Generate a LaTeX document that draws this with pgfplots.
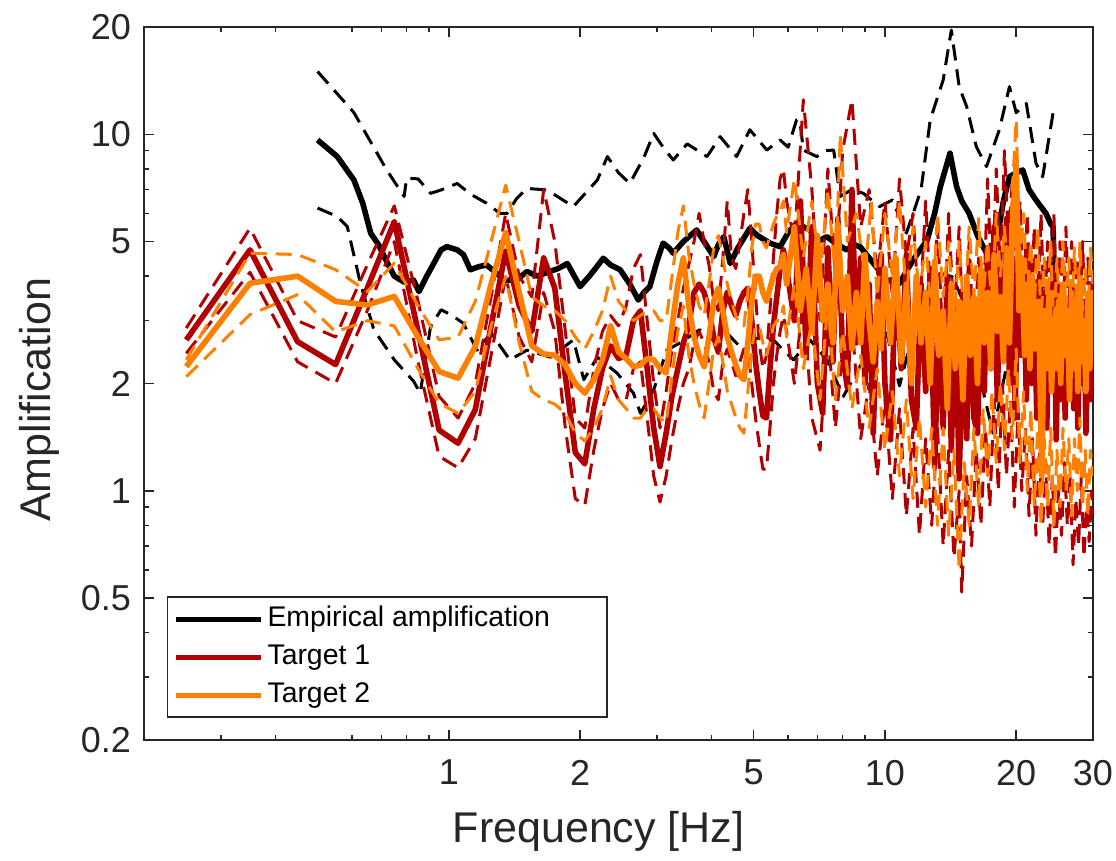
\documentclass[border=0pt]{standalone}
\usepackage{fontspec}
\setmainfont{Liberation Sans}
\usepackage{pgfplots}
\pgfplotsset{compat=1.18}
\definecolor{tred}{RGB}{178,0,0}
\definecolor{torange}{RGB}{255,128,0}
\definecolor{axgray}{RGB}{38,38,38}
\begin{document}
\begin{tikzpicture}
\path[use as bounding box] (0,0) rectangle (558pt,430.5pt);
\begin{axis}[
  at={(72pt,60.5pt)}, anchor=south west,
  scale only axis, width=474.5pt, height=356.5pt,
  xmode=log, ymode=log,
  xmin=0.2, xmax=30, ymin=0.2, ymax=20,
  xtick={1,2,5,10,20,30}, xticklabels={1,2,5,10,20,30},
  ytick={0.2,0.5,1,2,5,10,20}, yticklabels={0.2,0.5,1,2,5,10,20},
  minor xtick={0.3,0.4,0.6,0.7,0.8,0.9,3,4,6,7,8,9},
  minor ytick={0.3,0.4,0.6,0.7,0.8,0.9,3,4,6,7,8,9},
  tick align=inside, tick pos=both,
  major tick length=5pt, minor tick length=2.5pt,
  every tick/.style={axgray, line width=0.75pt},
  axis line style={axgray, line width=1pt},
  tick label style={font=\fontsize{18}{20}\selectfont, text=axgray},
  xticklabel style={yshift=-6.5pt},
  yticklabel style={xshift=-3pt},
  xlabel={Frequency [Hz]}, ylabel={Amplification},
  xlabel style={at={(axis description cs:0.479,-0.128)}, anchor=center, font=\fontsize{21.5}{24}\selectfont, text=axgray},
  ylabel style={at={(axis description cs:-0.11,0.477)}, anchor=center, rotate=0, font=\fontsize{21.5}{24}\selectfont, text=axgray},
  legend style={at={(axis description cs:0.024,0.031)}, anchor=south west,
    draw=axgray, line width=0.75pt, inner xsep=3pt, inner ysep=2pt, row sep=1pt,
    nodes={inner xsep=2pt, inner ysep=2pt, text height=10.5pt, text depth=3.5pt},
    font=\fontsize{14.2}{17}\selectfont},
  legend cell align=left,
  legend image code/.code={\draw[#1, line width=2.5pt] (0pt,0pt) -- (42.5pt,0pt);},
  every axis plot/.append style={line join=round},
  dsh/.style={line width=1.5pt, dash pattern=on 8pt off 4.5pt, forget plot},
  sld/.style={line width=2.8pt},
]
% ---------- black dashed ----------
\addplot[black, dsh] coordinates {
(0.50,15.0) (0.606,11.5) (0.72,7.95) (0.79,6.69) (0.80,7.53) (0.85,7.5) (0.908,6.83) (0.96,6.98) (1.045,7.28) (1.12,6.8) (1.22,6.41) (1.31,6.0) (1.36,6.0) (1.43,6.6) (1.51,7.05) (1.68,6.98) (1.93,6.27) (2.19,7.44) (2.31,8.66) (2.45,7.8) (2.6,7.28) (2.8,8.6) (2.95,10.06) (3.1,9.2) (3.27,8.47) (3.52,9.4) (3.91,8.66) (4.19,9.85) (4.57,8.66) (4.9,10.3) (5.36,9.03) (5.75,9.64) (6.0,9.2) (6.27,10.97) (6.38,10.97) (6.5,9.03) (6.98,8.66) (7.3,9.0) (7.63,9.03) (7.89,6.69) (8.4,7.0) (8.92,6.83) (9.72,6.27) (10.4,6.54) (11.2,5.28) (12.1,6.98) (12.7,10.97) (13.6,14.2) (14.2,19.6) (14.8,13.6) (15.4,11.95) (16.2,9.23) (17.1,8.12) (18.3,10.3) (19.3,13.6) (20.0,11.5) (21.1,12.2) (22.2,8.3) (23.0,7.6) (24.3,11.5)
};
\addplot[black, dsh] coordinates {
(0.50,6.21) (0.555,5.88) (0.585,5.51) (0.627,3.82) (0.673,2.83) (0.75,2.33) (0.83,2.03) (0.86,1.88) (0.908,2.89) (0.96,3.22) (1.01,3.12) (1.08,2.95) (1.16,2.48) (1.25,2.77) (1.38,2.33) (1.51,2.48) (1.71,2.37) (1.93,2.65) (2.04,2.05) (2.19,2.37) (2.43,2.14) (2.65,1.88) (2.75,1.65) (2.95,1.92) (3.16,2.48) (3.39,2.6) (3.76,2.83) (4.12,2.6) (4.34,2.77) (4.65,2.54) (5.17,2.7) (5.55,2.65) (5.85,2.48) (6.17,2.33) (6.73,2.65) (7.36,2.33) (8.03,1.84) (8.6,2.14) (9.4,2.6) (10.1,2.77) (10.8,1.97) (11.6,2.77) (12.5,3.43) (13.4,4.08) (14.3,3.98) (15.4,3.22) (16.5,2.09) (17.7,1.45) (19.0,2.23) (20.7,2.77) (22.2,3.43) (23.4,3.9) (24.3,3.74)
};
% ---------- black solid ----------
\addplot[black, sld] coordinates {
(0.50,9.64) (0.555,8.66) (0.606,7.44) (0.635,6.4) (0.662,5.28) (0.69,4.9) (0.72,4.4) (0.75,4.0) (0.79,3.85) (0.83,3.9) (0.854,3.62) (0.89,4.0) (0.924,4.35) (0.96,4.74) (0.99,4.84) (1.045,4.74) (1.08,4.6) (1.12,4.17) (1.17,4.25) (1.22,4.30) (1.28,4.1) (1.34,3.90) (1.43,3.90) (1.51,4.12) (1.6,4.0) (1.68,4.1) (1.78,4.2) (1.87,4.34) (1.94,4.0) (2.0,3.74) (2.1,4.0) (2.2,4.3) (2.26,4.49) (2.35,4.3) (2.47,4.17) (2.6,3.8) (2.72,3.43) (2.8,3.6) (2.89,3.74) (3.0,4.4) (3.1,4.95) (3.2,4.8) (3.27,4.64) (3.45,5.0) (3.7,5.39) (3.85,5.0) (4.05,4.54) (4.15,4.9) (4.27,5.16) (4.42,4.34) (4.6,4.8) (4.9,5.45) (5.1,5.2) (5.45,4.95) (5.75,4.84) (6.0,5.3) (6.27,5.63) (6.5,5.5) (6.73,5.4) (7.0,5.0) (7.36,5.16) (7.8,4.9) (8.17,4.74) (8.5,4.9) (8.77,4.84) (9.2,4.5) (9.55,4.25) (10.1,3.90) (10.8,3.82) (11.6,4.44) (12.5,5.05) (13.0,6.0) (13.4,7.13) (14.1,8.85) (14.6,7.13) (15.0,6.5) (15.6,6.0) (16.3,5.2) (17.1,4.64) (18.0,4.95) (18.7,6.5) (19.3,7.6) (20.0,7.8) (20.7,7.94) (21.4,7.0) (22.2,6.54) (23.4,6.0) (24.0,5.6) (24.3,5.51) (24.5,3.4)
};
\addlegendentry{Empirical amplification\hspace*{23.5pt}}
% ---------- Target 1 dashed ----------
\addplot[tred, dsh] coordinates {
(0.25,2.86) (0.35,5.45) (0.45,3.0) (0.55,2.7) (0.65,4.3) (0.75,6.3) (0.85,3.4) (0.95,1.84) (1.05,1.6) (1.15,2.0) (1.25,3.5) (1.35,6.0) (1.45,4.0) (1.55,3.5) (1.65,7.0) (1.75,5.0) (1.85,2.8) (1.95,1.6) (2.05,1.5) (2.15,2.2) (2.25,2.8) (2.35,3.1) (2.45,2.9) (2.55,3.3) (2.65,4.2) (2.75,4.6) (2.85,3.0) (2.95,2.0) (3.05,1.5) (3.15,1.9) (3.25,2.5) (3.35,3.0) (3.45,3.7) (3.55,4.3) (3.65,5.0) (3.75,6.0) (3.85,5.0) (3.95,4.3) (4.05,3.4) (4.15,3.2) (4.25,4.5) (4.35,6.5) (4.45,4.5) (4.55,4.2) (4.65,5.0) (4.75,6.0) (4.85,7.0) (4.95,5.0) (5.05,3.5) (5.15,2.6) (5.25,2.2) (5.35,2.4) (5.45,3.2) (5.55,4.5) (5.65,6.0) (5.75,7.5) (5.85,8.0) (5.95,6.5) (6.2,5.0) (6.5,12.5) (6.8,7.0) (7.1,3.0) (7.4,8.0) (7.7,4.0) (8.0,9.0) (8.4,12.5) (8.8,5.5) (9.2,7.0) (9.6,4.0) (10.0,6.5) (10.4,3.5) (10.8,7.5) (11.2,4.5) (11.6,6.0) (12.0,3.0) (12.4,6.5) (12.8,3.0) (13.2,5.5) (13.6,2.5) (14.0,6.0) (14.4,3.0) (14.8,5.5) (15.2,2.2) (15.6,5.0) (16.0,2.5) (16.4,4.5) (16.8,3.0) (17.2,7.5) (17.6,3.5) (18.0,8.0) (18.4,4.0) (18.8,9.0) (19.2,5.0) (19.6,7.5) (20.0,4.0) (20.4,6.5) (20.8,3.5) (21.2,6.0) (21.6,3.0) (22.0,5.5) (22.4,3.0) (22.8,6.0) (23.2,3.0) (23.6,5.0) (24.0,3.5) (24.4,6.0) (24.8,2.8) (25.2,5.0) (25.6,3.0) (26.0,5.5) (26.4,3.2) (26.8,5.0) (27.2,2.8) (27.6,4.5) (28.0,3.0) (28.4,5.0) (28.8,2.8) (29.2,4.5) (29.6,3.2) (30,4.0)
};
\addplot[tred, dsh] coordinates {
(0.25,2.43) (0.35,4.1) (0.45,2.3) (0.55,2.0) (0.65,3.2) (0.75,5.0) (0.85,2.3) (0.95,1.25) (1.05,1.16) (1.15,1.4) (1.25,2.4) (1.35,4.0) (1.45,2.7) (1.55,2.3) (1.65,3.6) (1.75,2.8) (1.85,1.5) (1.95,0.95) (2.05,0.91) (2.15,1.3) (2.25,1.7) (2.35,2.0) (2.45,1.8) (2.55,1.8) (2.65,2.2) (2.75,2.3) (2.85,1.6) (2.95,1.1) (3.05,0.93) (3.15,1.1) (3.25,1.4) (3.35,1.7) (3.45,2.0) (3.55,2.2) (3.65,2.6) (3.75,2.8) (3.85,2.6) (3.95,2.3) (4.05,1.9) (4.15,1.8) (4.25,2.3) (4.35,2.5) (4.45,2.3) (4.55,2.1) (4.65,2.3) (4.75,2.5) (4.85,2.5) (4.95,2.0) (5.05,1.6) (5.15,1.35) (5.25,1.15) (5.35,1.15) (5.45,1.5) (5.55,2.0) (5.65,2.4) (5.75,2.8) (5.85,3.1) (5.95,2.8) (6.2,2.0) (6.5,3.5) (6.8,1.6) (7.1,1.3) (7.4,2.8) (7.7,1.5) (8.0,2.5) (8.4,3.0) (8.8,1.4) (9.2,2.0) (9.6,1.1) (10.0,1.8) (10.4,0.95) (10.8,1.7) (11.2,0.85) (11.6,1.5) (12.0,0.75) (12.4,1.4) (12.8,0.8) (13.2,1.5) (13.6,0.7) (14.0,1.3) (14.4,0.65) (14.8,1.0) (15.0,0.52) (15.4,1.1) (15.8,0.7) (16.2,1.3) (16.6,0.8) (17.0,1.5) (17.4,0.9) (17.8,1.8) (18.2,1.0) (18.6,2.0) (19.0,1.1) (19.4,1.8) (19.8,0.9) (20.2,1.7) (20.6,1.0) (21.0,1.5) (21.4,0.85) (21.8,1.4) (22.2,0.75) (22.6,1.3) (23.0,0.8) (23.4,1.2) (23.8,0.7) (24.2,1.1) (24.6,0.65) (25.0,1.0) (25.4,0.75) (25.8,1.2) (26.2,0.8) (26.6,1.1) (27.0,0.62) (27.4,0.95) (27.8,0.7) (28.2,1.1) (28.6,0.65) (29.0,0.9) (29.4,0.72) (29.8,1.0) (30,0.85)
};
% ---------- Target 1 solid ----------
\addplot[tred, sld] coordinates {
(0.25,2.65) (0.35,4.74) (0.45,2.62) (0.55,2.26) (0.65,3.7) (0.75,5.69) (0.85,2.8) (0.95,1.48) (1.05,1.36) (1.15,1.69) (1.25,2.9) (1.35,4.7) (1.45,3.3) (1.55,2.8) (1.65,4.5) (1.75,3.7) (1.85,2.1) (1.95,1.28) (2.05,1.19) (2.15,1.7) (2.25,2.2) (2.35,2.55) (2.45,2.35) (2.55,2.4) (2.65,3.0) (2.75,3.2) (2.85,2.2) (2.95,1.5) (3.05,1.17) (3.15,1.45) (3.25,1.85) (3.35,2.2) (3.45,2.6) (3.55,2.9) (3.65,3.6) (3.75,3.8) (3.85,3.6) (3.95,3.2) (4.05,2.7) (4.15,2.45) (4.25,3.2) (4.35,3.6) (4.45,3.3) (4.55,3.1) (4.65,3.4) (4.75,3.6) (4.85,3.7) (4.95,3.0) (5.05,2.3) (5.15,1.9) (5.25,1.62) (5.35,1.6) (5.45,2.2) (5.55,2.9) (5.65,3.5) (5.75,4.2) (5.85,4.74) (5.95,4.2) (6.2,3.0) (6.4,6.5) (6.6,2.4) (6.8,5.5) (7.0,2.0) (7.2,1.65) (7.4,4.8) (7.6,2.3) (7.8,5.8) (8.0,2.4) (8.2,1.95) (8.4,7.0) (8.6,2.6) (8.8,4.5) (9.0,2.0) (9.2,3.8) (9.4,1.45) (9.6,3.2) (9.8,4.6) (10.0,2.0) (10.3,1.39) (10.6,4.2) (10.9,2.2) (11.2,4.6) (11.5,1.8) (11.8,1.5) (12.1,3.8) (12.4,1.9) (12.7,4.2) (13.0,1.17) (13.3,3.0) (13.6,1.5) (13.9,4.0) (14.2,1.3) (14.5,3.4) (14.8,1.08) (15.1,2.8) (15.4,1.4) (15.7,3.6) (16.0,1.6) (16.3,1.45) (16.6,3.2) (16.9,1.9) (17.2,4.8) (17.5,2.2) (17.8,5.5) (18.1,1.8) (18.4,4.2) (18.7,2.5) (19.0,5.8) (19.3,2.0) (19.6,4.5) (19.9,1.6) (20.2,5.2) (20.5,2.4) (20.8,4.0) (21.1,1.8) (21.4,4.6) (21.7,2.0) (22.0,3.5) (22.3,1.6) (22.6,4.0) (22.9,1.9) (23.2,3.6) (23.5,1.5) (23.8,3.2) (24.1,2.0) (24.4,3.8) (24.7,1.39) (25.0,3.0) (25.3,1.8) (25.6,3.5) (25.9,1.6) (26.2,3.0) (26.5,2.1) (26.8,3.6) (27.1,1.7) (27.4,2.8) (27.7,1.5) (28.0,3.2) (28.3,2.0) (28.6,3.4) (28.9,1.45) (29.2,2.6) (29.5,1.8) (29.8,2.4) (30,2.0)
};
\addlegendentry{Target 1}
% ---------- Target 2 dashed ----------
\addplot[torange, dsh] coordinates {
(0.25,2.33) (0.35,4.64) (0.45,4.6) (0.55,4.17) (0.65,3.62) (0.75,4.35) (0.85,3.3) (0.95,2.65) (1.05,2.7) (1.15,3.4) (1.25,5.0) (1.35,7.2) (1.45,5.0) (1.55,3.5) (1.65,3.3) (1.75,3.2) (1.85,3.0) (1.95,2.7) (2.05,2.5) (2.15,2.8) (2.25,3.2) (2.35,4.0) (2.45,3.4) (2.55,3.2) (2.65,3.0) (2.75,3.1) (2.85,3.2) (2.95,3.2) (3.05,3.0) (3.15,3.0) (3.25,4.0) (3.35,5.3) (3.45,6.3) (3.55,4.6) (3.65,3.8) (3.75,3.3) (3.85,3.1) (3.95,3.8) (4.05,4.8) (4.15,5.2) (4.25,4.5) (4.35,3.8) (4.45,3.4) (4.55,3.1) (4.65,2.9) (4.75,2.9) (4.85,3.6) (4.95,4.8) (5.05,5.6) (5.15,5.6) (5.25,5.0) (5.35,4.8) (5.45,5.2) (5.55,5.6) (5.65,5.9) (5.75,6.0) (5.85,6.5) (5.95,5.3) (6.2,7.5) (6.5,4.5) (6.8,6.5) (7.1,4.0) (7.4,7.0) (7.7,4.0) (7.9,10.0) (8.2,5.0) (8.6,6.0) (9.0,4.0) (9.3,6.5) (9.6,3.5) (10.0,6.0) (10.4,4.0) (10.8,6.5) (11.2,3.5) (11.6,5.5) (12.0,3.5) (12.4,5.0) (12.8,3.0) (13.2,6.0) (13.6,3.5) (14.0,5.0) (14.4,2.8) (14.8,5.0) (15.2,3.0) (15.6,5.5) (16.0,3.5) (16.4,5.8) (16.8,3.5) (17.2,5.0) (17.6,3.2) (18.0,6.0) (18.4,4.0) (18.8,5.5) (19.2,3.8) (19.6,7.0) (20.0,11.0) (20.4,4.5) (20.8,6.0) (21.2,3.5) (21.6,5.0) (22.0,3.2) (22.4,5.5) (22.8,3.0) (23.2,4.5) (23.6,3.2) (24.0,5.0) (24.4,2.8) (24.8,4.5) (25.2,3.0) (25.6,5.0) (26.0,3.2) (26.4,4.5) (26.8,3.0) (27.2,4.8) (27.6,3.0) (28.0,5.0) (28.4,3.2) (28.8,4.2) (29.2,3.0) (29.6,4.8) (30,3.8)
};
\addplot[torange, dsh] coordinates {
(0.25,2.09) (0.35,3.12) (0.45,3.55) (0.55,2.79) (0.65,3.0) (0.75,2.9) (0.85,2.2) (0.95,1.76) (1.05,1.65) (1.15,1.9) (1.25,2.9) (1.35,4.0) (1.45,2.6) (1.55,1.9) (1.65,1.8) (1.75,1.75) (1.85,1.65) (1.95,1.45) (2.05,1.38) (2.15,1.5) (2.25,1.7) (2.35,2.1) (2.45,1.8) (2.55,1.7) (2.65,1.6) (2.75,1.6) (2.85,1.7) (2.95,1.7) (3.05,1.6) (3.15,1.55) (3.25,2.1) (3.35,2.8) (3.45,3.3) (3.55,2.4) (3.65,2.0) (3.75,1.75) (3.85,1.6) (3.95,2.0) (4.05,2.5) (4.15,2.7) (4.25,2.3) (4.35,1.9) (4.45,1.75) (4.55,1.6) (4.65,1.5) (4.75,1.45) (4.85,1.9) (4.95,2.5) (5.05,2.9) (5.15,2.9) (5.25,2.6) (5.35,2.4) (5.45,2.6) (5.55,2.9) (5.65,3.0) (5.75,3.0) (5.85,3.3) (5.95,2.7) (6.2,3.8) (6.5,2.2) (6.8,3.0) (7.1,1.8) (7.4,3.4) (7.7,1.8) (8.0,2.8) (8.4,1.7) (8.8,2.4) (9.2,1.5) (9.6,2.2) (10.0,1.3) (10.4,1.9) (10.8,1.1) (11.2,1.8) (11.6,0.95) (12.0,1.6) (12.4,0.9) (12.8,1.5) (13.2,0.8) (13.6,1.5) (14.0,0.75) (14.4,1.3) (14.8,0.6) (15.2,1.2) (15.6,0.8) (16.0,1.5) (16.4,0.9) (16.8,1.7) (17.2,1.1) (17.6,1.9) (18.0,1.2) (18.4,2.0) (18.8,1.3) (19.2,2.2) (19.6,1.4) (20.0,2.5) (20.4,1.2) (20.8,1.9) (21.2,1.0) (21.6,1.7) (22.0,0.9) (22.4,1.5) (22.8,0.8) (23.2,1.4) (23.6,0.9) (24.0,1.5) (24.4,0.8) (24.8,1.3) (25.2,0.9) (25.6,1.5) (26.0,1.0) (26.4,1.4) (26.8,0.85) (27.2,1.4) (27.6,1.0) (28.0,1.6) (28.4,0.9) (28.8,1.3) (29.2,0.85) (29.6,1.3) (30,1.1)
};
% ---------- Target 2 solid ----------
\addplot[torange, sld] coordinates {
(0.25,2.23) (0.35,3.82) (0.45,4.0) (0.55,3.4) (0.65,3.32) (0.75,3.51) (0.85,2.7) (0.95,2.16) (1.05,2.07) (1.15,2.54) (1.25,3.8) (1.35,5.3) (1.45,3.6) (1.55,2.55) (1.65,2.42) (1.75,2.4) (1.85,2.25) (1.95,2.0) (2.05,1.88) (2.15,2.05) (2.25,2.33) (2.35,2.9) (2.45,2.45) (2.55,2.35) (2.65,2.23) (2.75,2.25) (2.85,2.35) (2.95,2.33) (3.05,2.2) (3.15,2.14) (3.25,2.9) (3.35,3.8) (3.45,4.5) (3.55,3.3) (3.65,2.7) (3.75,2.4) (3.85,2.23) (3.95,2.7) (4.05,3.4) (4.15,3.7) (4.25,3.2) (4.35,2.7) (4.45,2.45) (4.55,2.25) (4.65,2.1) (4.75,2.05) (4.85,2.6) (4.95,3.4) (5.05,4.0) (5.15,4.0) (5.25,3.6) (5.35,3.4) (5.45,3.7) (5.55,4.0) (5.65,4.2) (5.75,4.25) (5.85,4.6) (5.95,3.8) (6.2,5.5) (6.4,3.2) (6.6,4.2) (6.8,2.8) (7.0,5.2) (7.2,3.0) (7.4,3.8) (7.6,2.6) (7.8,5.6) (8.0,3.2) (8.2,4.0) (8.4,2.5) (8.6,3.6) (8.8,2.6) (9.0,4.6) (9.2,3.0) (9.4,2.3) (9.6,3.4) (9.8,2.5) (10.0,4.2) (10.3,2.6) (10.6,4.5) (10.9,2.3) (11.2,3.8) (11.5,2.0) (11.8,4.0) (12.1,2.6) (12.4,3.6) (12.7,2.0) (13.0,4.4) (13.3,2.4) (13.6,3.2) (13.9,1.7) (14.2,3.8) (14.5,2.2) (14.8,3.4) (15.1,1.8) (15.4,4.0) (15.7,2.4) (16.0,3.5) (16.3,2.0) (16.6,4.2) (16.9,2.6) (17.2,3.6) (17.5,2.2) (17.8,4.6) (18.1,2.8) (18.4,3.5) (18.7,2.3) (19.0,4.8) (19.3,2.6) (19.6,5.5) (20.0,8.2) (20.3,3.2) (20.6,4.5) (20.9,2.4) (21.2,3.8) (21.5,2.2) (21.8,4.0) (22.1,2.5) (22.5,3.4) (22.9,1.1) (23.2,3.2) (23.5,2.2) (23.8,3.6) (24.1,1.9) (24.4,3.0) (24.7,2.2) (25.0,3.4) (25.3,2.0) (25.6,3.8) (25.9,2.4) (26.2,3.2) (26.5,1.8) (26.8,3.6) (27.1,2.2) (27.4,3.4) (27.7,1.9) (28.0,3.8) (28.3,2.3) (28.6,3.0) (28.9,1.9) (29.2,3.5) (29.5,2.2) (29.8,3.6) (30,2.6)
};
\addlegendentry{Target 2}
\end{axis}
\end{tikzpicture}
\end{document}
